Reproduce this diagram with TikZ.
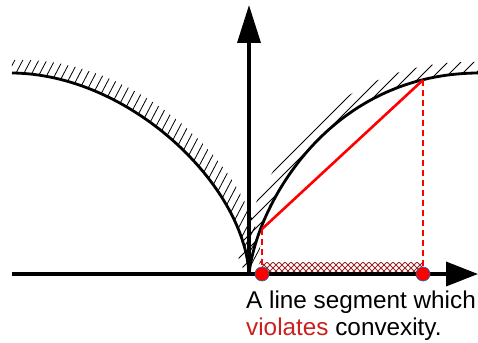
\documentclass[tikz,border=0pt]{standalone}
\usepackage{fontspec}
\setmainfont{Liberation Sans}
\usetikzlibrary{arrows.meta, positioning}
\definecolor{textRed}{RGB}{201,33,30}
\definecolor{meshRed}{RGB}{150,40,40}
\definecolor{dotEdge}{RGB}{52,101,164}

\begin{document}
\begin{tikzpicture}[x=1pt, y=1pt,
  axis/.style={line width=3.6pt, -{Triangle[length=32pt, width=24pt]}},
  yaxis/.style={line width=3.6pt, -{Triangle[length=38pt, width=23pt]}},
  curve/.style={line width=2.8pt},
  hatch/.style={line width=0.8pt},
  mesh/.style={meshRed, line width=1pt},
  chord/.style={red, line width=2.6pt},
  drop/.style={red, line width=2.6pt, dash pattern=on 6pt off 4pt},
  dot/.style={circle, fill=red, draw=dotEdge, line width=0.7pt,
              minimum size=14pt, inner sep=0pt},
  caption/.style={font=\fontsize{24.3}{27}\selectfont, align=left, inner sep=0pt},
]
\useasboundingbox (-249,-68) rectangle (229,274);

%% Points
\coordinate (o)    at (0,0);
\coordinate (xl)   at (-237,0);
\coordinate (xr)   at (229,0);
\coordinate (yt)   at (0,269);
\coordinate (ltop) at (-237,201);
\coordinate (rtop) at (229,201);
\coordinate (qa)   at (13,45);
\coordinate (qb)   at (174,194);

%% Hatching above the left curve
\begin{scope}
  \clip (o) .. controls (-5,90) and (-120,200) .. (ltop) -- (-237,214)
    -- (-224,214) .. controls (-107,213) and (8,103) .. (13,13) -- cycle;
  \foreach \x in {-352,-344,...,12}
    \draw[hatch] (\x,-10) -- ++(130,247);
\end{scope}

%% Hatching above the right curve
\begin{scope}
  \clip (o) .. controls (8,70) and (80,200) .. (rtop) -- (229,212)
    -- (218,212) .. controls (69,211) and (-3,81) .. (-11,11) -- cycle;
  \foreach \x in {-140,-127,...,40}
    \draw[hatch] (\x,-10) -- ++(240,240);
\end{scope}

%% Crossed band on the x axis
\begin{scope}
  \clip (13,0) rectangle (174,11);
  \foreach \x in {0,6,...,192} {
    \draw[mesh] (\x,0) -- ++(12,12);
    \draw[mesh] (\x,0) -- ++(-12,12);
  }
\end{scope}

%% Axes
\draw[axis] (xl) -- (xr);
\draw[yaxis] (o) -- (yt);

%% Curves
\draw[curve] (o) .. controls (-5,90) and (-120,200) .. (ltop);
\draw[curve] (o) .. controls (8,70) and (80,200) .. (rtop);

%% Segment
\coordinate (pa) at (13,0);
\coordinate (pb) at (174,0);
\draw[drop] (qa) -- (pa);
\draw[drop] (qb) -- (pb);
\draw[chord] (qa) -- (qb);
\node[dot] (da) at (pa) {};
\node[dot] (db) at (pb) {};

\node[caption, anchor=base west] (note) at (-3,-61)
  {A line segment which\\ \textcolor{textRed}{violates} convexity.};

\end{tikzpicture}
\end{document}
